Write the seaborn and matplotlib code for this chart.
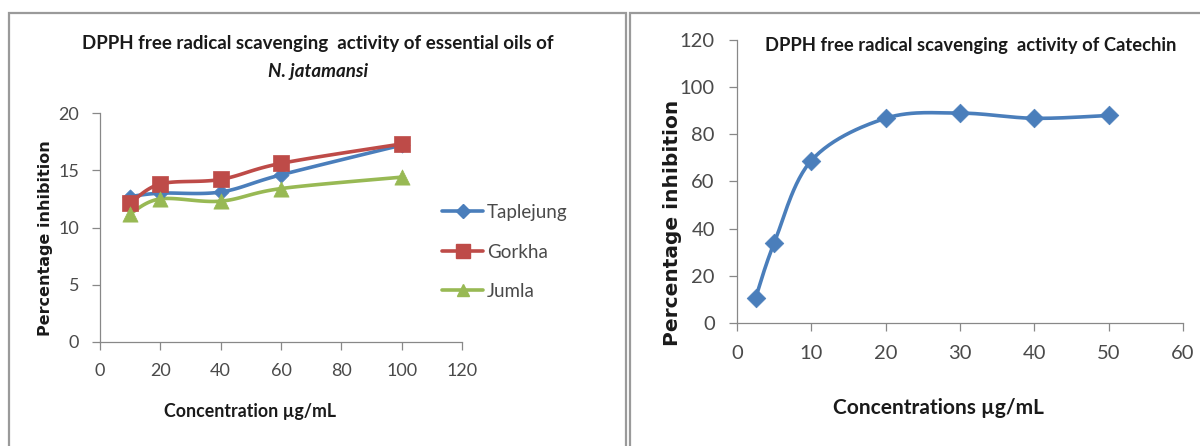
import numpy as np
import pandas as pd
import matplotlib
matplotlib.use("Agg")
import matplotlib.pyplot as plt
from matplotlib.lines import Line2D
from matplotlib.patches import Rectangle
import seaborn as sns

# ---------------- data ----------------
oil_conc = [10, 20, 40, 60, 100]
taplejung = [12.7, 13.0, 13.1, 14.6, 17.2]
gorkha = [12.1, 13.8, 14.2, 15.6, 17.3]
jumla = [11.2, 12.5, 12.3, 13.4, 14.4]
series_names = ["Taplejung", "Gorkha", "Jumla"]

cat_conc = [2.5, 5, 10, 20, 30, 40, 50]
catechin = [10.6, 33.9, 68.9, 86.8, 89.0, 86.8, 88.0]

left_xticks = [0, 20, 40, 60, 80, 100, 120]
left_yticks = [0, 5, 10, 15, 20]
right_xticks = [0, 10, 20, 30, 40, 50, 60]
right_yticks = [0, 20, 40, 60, 80, 100, 120]

# ---------------- style ----------------
sns.set_theme(style="white")
FONT = ["Lato", "DejaVu Sans"]
plt.rcParams["font.family"] = FONT

BLUE = "#4A7EBB"
RED = "#BE4B48"
GREEN = "#98B954"
AXC = "#888888"
TXT = "#4a4a4a"


def smooth_curve(ax, xs, ys, n=30):
    """Excel-style smoothed line (cubic Bezier, tension 1/6) computed in display space."""
    pts = ax.transData.transform(np.column_stack([xs, ys]))
    P = np.vstack([pts[0], pts, pts[-1]])
    out = []
    t = np.linspace(0, 1, n)[:, None]
    for i in range(1, len(P) - 2):
        p0 = P[i]
        p3 = P[i + 1]
        p1 = p0 + (P[i + 1] - P[i - 1]) / 6.0
        p2 = p3 - (P[i + 2] - P[i]) / 6.0
        seg = ((1 - t) ** 3) * p0 + 3 * ((1 - t) ** 2) * t * p1 + 3 * (1 - t) * t ** 2 * p2 + t ** 3 * p3
        out.append(seg)
    out = np.vstack(out)
    return ax.transData.inverted().transform(out)


def style_axes(ax):
    sns.despine(ax=ax)
    for s in ["left", "bottom"]:
        ax.spines[s].set_color(AXC)
        ax.spines[s].set_linewidth(0.9)
    ax.tick_params(axis="both", which="both", direction="out", length=6, width=0.9,
                   color=AXC, labelcolor=TXT, bottom=True, left=True)
    ax.set_facecolor("none")


fig = plt.figure(figsize=(12, 4.46), dpi=100)

# panel borders
fig.patches.append(Rectangle((9 / 1200, -0.05), (626 - 9) / 1200, (446 - 13) / 446 + 0.05,
                             transform=fig.transFigure, fill=False, edgecolor="#9a9a9a", lw=1.6))
fig.patches.append(Rectangle((630 / 1200, -0.05), 0.5, (446 - 13) / 446 + 0.05,
                             transform=fig.transFigure, fill=False, edgecolor="#9a9a9a", lw=1.6))

# ---------------- left chart ----------------
axL = fig.add_axes([100 / 1200, (446 - 342) / 446, 362 / 1200, 229 / 446])
axL.set_xlim(0, 120)
axL.set_ylim(0, 20)
axL.set_xticks(left_xticks)
axL.set_yticks(left_yticks)
style_axes(axL)
axL.tick_params(labelsize=13, pad=9)

left_df = pd.DataFrame({
    "conc": oil_conc * 3,
    "val": taplejung + gorkha + jumla,
    "site": sum([[n] * len(oil_conc) for n in series_names], []),
})
colors = {"Taplejung": BLUE, "Gorkha": RED, "Jumla": GREEN}
markers = {"Taplejung": "D", "Gorkha": "s", "Jumla": "^"}
msizes = {"Taplejung": 60, "Gorkha": 130, "Jumla": 120}

for name, vals in zip(series_names, [taplejung, gorkha, jumla]):
    c = smooth_curve(axL, oil_conc, vals)
    axL.plot(c[:, 0], c[:, 1], color=colors[name], lw=2.6, solid_capstyle="round", zorder=2)
for name in series_names:
    sub = left_df[left_df["site"] == name]
    sns.scatterplot(data=sub, x="conc", y="val", ax=axL, color=colors[name],
                    marker=markers[name], s=msizes[name], edgecolor=colors[name],
                    linewidth=0.5, zorder=3, legend=False)
axL.set_xlabel("")
axL.set_ylabel("")

fig.text(318 / 1200, 1 - 44 / 446, "DPPH free radical scavenging  activity of essential oils of",
         ha="center", va="center", fontsize=13.5, fontweight="bold", color="#1a1a1a")
fig.text(318 / 1200, 1 - 71 / 446, "N. jatamansi", ha="center", va="center", fontsize=13.5,
         fontweight="bold", fontstyle="italic", color="#1a1a1a")
fig.text(250 / 1200, 1 - 411 / 446, "Concentration \u00b5g/mL", ha="center", va="center",
         fontsize=12.8, fontweight="bold", color="#1a1a1a")
fig.text(46 / 1200, 1 - 238 / 446, "Percentage inhibition", ha="center", va="center",
         rotation=90, fontsize=11.5, fontweight="bold", color="#1a1a1a", family="DejaVu Sans")

handles = [Line2D([0], [0], color=colors[n], lw=2.6, marker=markers[n],
                  markersize={"Taplejung": 7, "Gorkha": 10, "Jumla": 9}[n]) for n in series_names]
fig.legend(handles, series_names, loc="center left", bbox_to_anchor=(425 / 1200, 1 - 252 / 446),
           frameon=False, fontsize=13.5, handlelength=2.2, handletextpad=0.2,
           labelspacing=1.2, labelcolor=TXT)

# ---------------- right chart ----------------
axR = fig.add_axes([737 / 1200, (446 - 323) / 446, 446 / 1200, 283 / 446])
axR.set_xlim(0, 60)
axR.set_ylim(0, 120)
axR.set_xticks(right_xticks)
axR.set_yticks(right_yticks)
style_axes(axR)
axR.tick_params(labelsize=14.5, pad=10)

cat_df = pd.DataFrame({"conc": cat_conc, "val": catechin})
c = smooth_curve(axR, cat_conc, catechin)
axR.plot(c[:, 0], c[:, 1], color=BLUE, lw=2.6, zorder=2)
sns.scatterplot(data=cat_df, x="conc", y="val", ax=axR, color=BLUE, marker="D", s=90,
                edgecolor=BLUE, linewidth=0.5, zorder=3, legend=False)
axR.set_xlabel("")
axR.set_ylabel("")

fig.text(971 / 1200, 1 - 45 / 446, "DPPH free radical scavenging  activity of Catechin",
         ha="center", va="center", fontsize=13.2, fontweight="bold", color="#1a1a1a")
fig.text(938 / 1200, 1 - 408 / 446, "Concentrations \u00b5g/mL", ha="center", va="center",
         fontsize=15, fontweight="bold", color="#1a1a1a")
fig.text(673 / 1200, 1 - 223 / 446, "Percentage inhibition", ha="center", va="center",
         rotation=90, fontsize=14.5, fontweight="bold", color="#1a1a1a", family="DejaVu Sans")

fig.savefig("out.png", dpi=100, facecolor="white")
